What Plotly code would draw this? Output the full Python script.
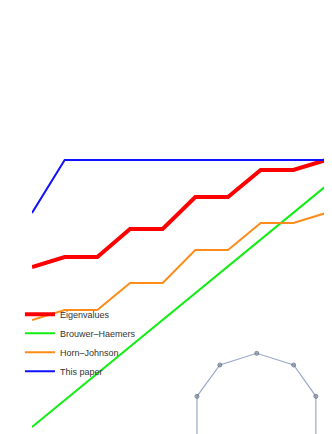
import plotly.graph_objects as go

# x positions (index of the point)
n = [1, 2, 3, 4, 5, 6, 7, 8, 9, 10]
eigenvalues = [16.7, 17.7, 17.7, 20.5, 20.5, 23.7, 23.7, 26.4, 26.4, 27.4]
horn_johnson = [11.4, 12.4, 12.4, 15.1, 15.1, 18.4, 18.4, 21.1, 21.1, 22.1]
this_paper = [22.1, 27.4, 27.4, 27.4, 27.4, 27.4, 27.4, 27.4, 27.4, 27.4]
bh_x = [1, 10]
bh_y = [0.7, 24.8]

# the small shape peeking in at the bottom right
shape_x = [6.05, 6.05, 6.75, 7.88, 9.01, 9.69, 9.69]
shape_y = [-5, 3.77, 6.9, 8.07, 6.9, 3.77, -5]

fig = go.Figure()
fig.add_trace(go.Scatter(x=n, y=eigenvalues, mode="lines", name="Eigenvalues",
                         line=dict(color="#ff0000", width=4)))
fig.add_trace(go.Scatter(x=bh_x, y=bh_y, mode="lines", name="Brouwer\u2013Haemers",
                         line=dict(color="#11ee11", width=2)))
fig.add_trace(go.Scatter(x=n, y=horn_johnson, mode="lines", name="Horn\u2013Johnson",
                         line=dict(color="#ff8c1a", width=2)))
fig.add_trace(go.Scatter(x=n, y=this_paper, mode="lines", name="This paper",
                         line=dict(color="#1111ff", width=2)))
fig.add_trace(go.Scatter(x=shape_x, y=shape_y, mode="lines+markers", showlegend=False,
                         line=dict(color="#9aaac8", width=1.2),
                         marker=dict(size=[0, 4, 4, 4, 4, 4, 0], color="#8090a8",
                                     line=dict(color="#505a6a", width=1))))

# page body adds an 8px offset, so the figure is sized to land where the reference is
fig.update_xaxes(visible=False, range=[1, 10])
fig.update_yaxes(visible=False, range=[0, 42.6])
fig.update_layout(
    width=324, height=426,
    margin=dict(l=24, r=6, t=0, b=0),
    plot_bgcolor="white", paper_bgcolor="white",
    font=dict(family="Liberation Sans, Arial, sans-serif", size=9, color="#333"),
    legend=dict(x=-0.041, xanchor="left", y=0.315, yanchor="top",
                bgcolor="rgba(0,0,0,0)", tracegroupgap=0),
)

fig.write_html("out.html")
